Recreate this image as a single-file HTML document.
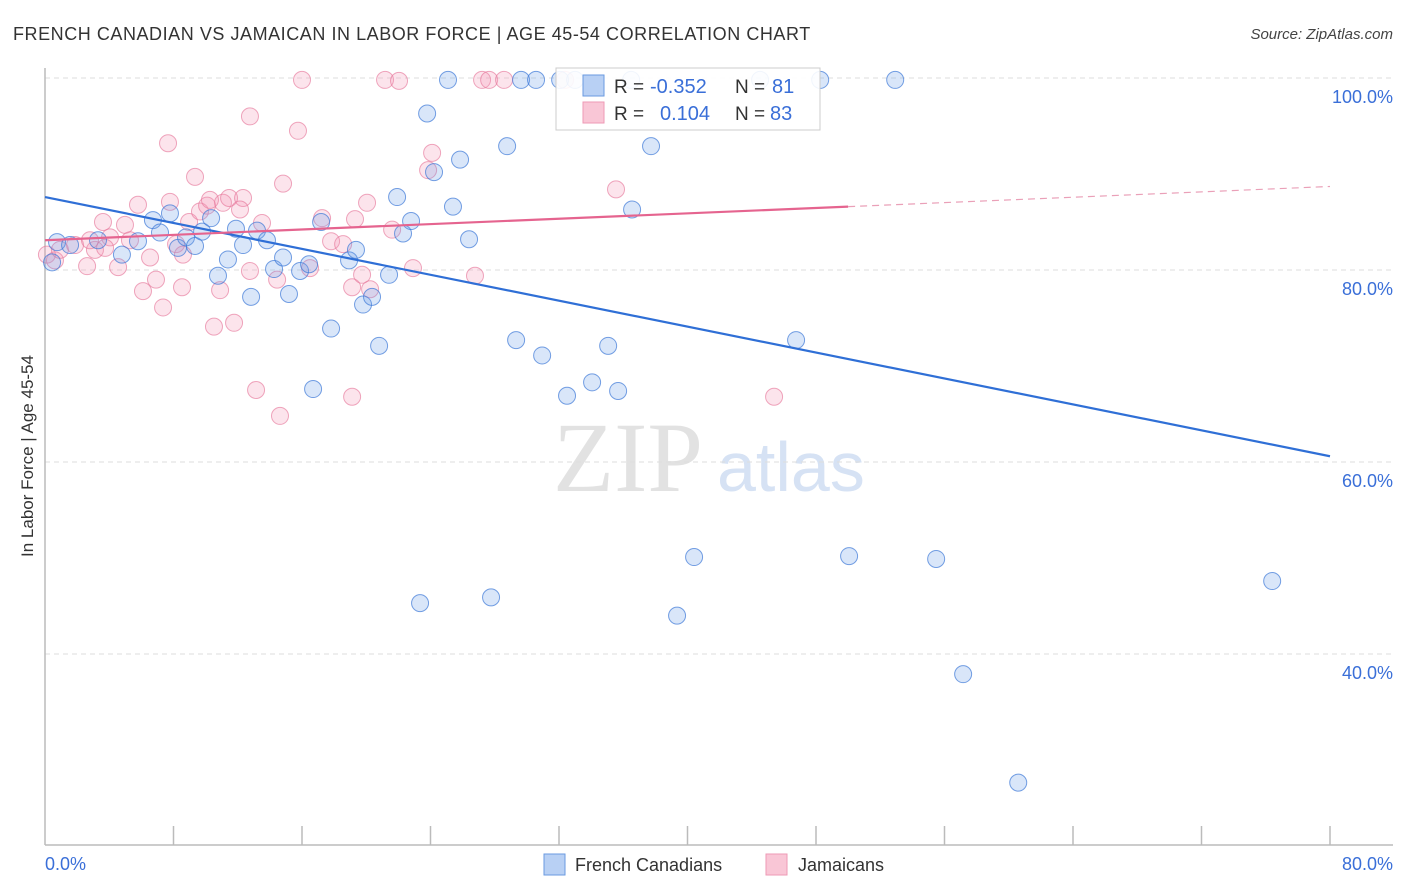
<!DOCTYPE html>
<html><head><meta charset="utf-8"><style>
body{margin:0;background:#fff;width:1406px;height:892px;overflow:hidden;font-family:"Liberation Sans",sans-serif}
svg{display:block}
</style></head><body>
<svg id="chart" width="1406" height="892" xmlns="http://www.w3.org/2000/svg" font-family="Liberation Sans, sans-serif">
<text x="13" y="40" font-size="18" fill="#333" letter-spacing="0.55">FRENCH CANADIAN VS JAMAICAN IN LABOR FORCE | AGE 45-54 CORRELATION CHART</text>
<text x="1393" y="39" font-size="15" fill="#444" font-style="italic" text-anchor="end">Source: ZipAtlas.com</text>
<g>
<text x="553" y="491" font-size="100" font-family="Liberation Serif, serif" fill="#e2e2e2">ZIP</text>
<text x="717" y="491" font-size="70" fill="#d6e2f4">atlas</text>
</g>
<g id="grid"></g>
<g id="axes"></g>
<g id="pts"></g>
<g id="lines"></g>
<text transform="translate(33,456) rotate(-90)" font-size="17" fill="#333" text-anchor="middle">In Labor Force | Age 45-54</text>
<g>
<rect x="556" y="68" width="264" height="62" fill="#fff" fill-opacity="0.9" stroke="#ccc"/>
<rect x="583" y="75" width="21" height="21" fill="#b8d0f4" stroke="#6a9ae0"/>
<rect x="583" y="102" width="21" height="21" fill="#f9c6d6" stroke="#ee9ab5"/>
<text x="614" y="93" font-size="19" fill="#333">R =</text>
<text x="650" y="93" font-size="20" fill="#3a6fd8">-0.352</text>
<text x="735" y="93" font-size="19" fill="#333">N =</text>
<text x="772" y="93" font-size="20" fill="#3a6fd8">81</text>
<text x="614" y="120" font-size="19" fill="#333">R =</text>
<text x="660" y="120" font-size="20" fill="#3a6fd8">0.104</text>
<text x="735" y="120" font-size="19" fill="#333">N =</text>
<text x="770" y="120" font-size="20" fill="#3a6fd8">83</text>
</g>
<g>
<rect x="544" y="854" width="21" height="21" fill="#b8d0f4" stroke="#6a9ae0"/>
<text x="575" y="871" font-size="18" fill="#333">French Canadians</text>
<rect x="766" y="854" width="21" height="21" fill="#f9c6d6" stroke="#ee9ab5"/>
<text x="798" y="871" font-size="18" fill="#333">Jamaicans</text>
</g>
</svg>
<script>
const blueX=[0.75,0.44,1.56,3.30,4.79,5.79,6.72,7.78,7.16,8.28,8.78,9.34,9.78,10.34,10.77,11.39,11.89,12.33,12.83,13.20,13.82,14.26,14.82,15.19,15.88,16.44,17.19,17.81,16.69,18.93,19.36,19.80,20.36,20.80,21.42,21.92,22.29,22.79,23.35,23.79,24.22,25.09,25.40,25.84,26.40,27.77,28.77,29.33,29.64,30.57,30.95,32.07,32.50,33.00,34.06,35.06,35.68,36.49,37.73,36.55,39.35,40.41,44.52,46.76,48.26,50.06,52.93,55.48,57.16,60.59,76.40];
const blueY=[82.9,80.8,82.6,83.1,81.6,83.0,85.2,85.9,83.9,82.3,83.4,82.5,84.0,85.4,79.4,81.1,84.3,82.6,77.2,84.1,83.1,80.1,81.3,77.5,79.9,80.6,85.0,73.9,67.6,81.0,82.1,76.4,77.2,72.1,79.5,87.6,83.8,85.1,45.3,96.3,90.2,99.8,86.6,91.5,83.2,45.9,92.9,72.7,99.8,99.8,71.1,99.8,66.9,99.8,68.3,72.1,67.4,99.8,92.9,86.3,44.0,50.1,99.8,72.7,99.8,50.2,99.8,49.9,37.9,26.6,47.6];
const pinkX=[0.12,0.62,0.93,1.87,2.62,3.11,3.61,4.05,4.55,4.98,5.79,6.10,6.54,6.91,7.35,7.66,7.78,8.16,8.53,8.97,9.34,9.65,10.09,10.52,10.90,11.08,11.46,11.77,12.33,12.76,12.76,13.14,13.51,14.45,14.63,14.82,15.75,16.00,16.50,17.25,17.81,18.56,19.12,19.12,19.30,19.74,20.05,20.24,21.17,21.61,22.04,22.91,23.85,24.10,26.77,27.21,27.65,28.58,32.38,35.55,45.39,8.59,5.29,12.14,10.27,3.74,2.80];
const pinkY=[81.6,81.0,82.1,82.6,80.4,82.1,85.0,83.4,80.3,84.7,86.8,77.8,81.3,79.0,76.1,93.2,87.1,82.7,78.2,85.0,89.7,86.1,86.7,74.1,77.9,87.0,87.5,74.5,87.5,96.0,79.9,67.5,84.9,79.0,64.8,89.0,94.5,99.8,80.2,85.4,83.0,82.7,66.8,78.2,85.3,79.5,87.0,78.0,99.8,84.2,99.7,80.2,90.4,92.2,79.4,99.8,99.8,99.8,99.8,88.4,66.8,81.6,83.1,86.3,87.3,82.3,83.1];
const blueTrend=[87.6,-0.3375];
const pinkTrend=[83.1,0.07];
const yTicks=[100,80,60,40];
const yTickLabels=["100.0%","80.0%","60.0%","40.0%"];
const xTicks=[0,8,16,24,32,40,48,56,64,72,80];

const X=v=>45+v*(1285/80);
const Y=v=>78+(100-v)*9.6;
const NS="http://www.w3.org/2000/svg";
function mk(tag,attrs,parent){const e=document.createElementNS(NS,tag);for(const k in attrs)e.setAttribute(k,attrs[k]);parent.appendChild(e);return e;}
const grid=document.getElementById('grid'),axes=document.getElementById('axes'),pts=document.getElementById('pts'),lines=document.getElementById('lines');
yTicks.forEach((t,i)=>{
  const l=mk('line',{x1:45,x2:1393,y1:Y(t),y2:Y(t),stroke:'#ddd','stroke-dasharray':'5,4'},grid);
  
  
  const tx=mk('text',{x:1393,y:Y(t)+25,'font-size':18,fill:'#3a6fd8','text-anchor':'end'},axes);
  tx.textContent=yTickLabels[i];
  
  
});
const ya=mk('line',{x1:45,x2:45,y1:68,y2:845,stroke:'#bbb','stroke-width':1.5},axes);


const xa=mk('line',{x1:45,x2:1393,y1:845,y2:845,stroke:'#bbb','stroke-width':1.5},axes);


xTicks.slice(1).forEach(t=>{
  const l=mk('line',{x1:X(t),x2:X(t),y1:826,y2:845,stroke:'#bbb','stroke-width':1.5},axes);
  
  
});
const xl0=mk('text',{x:45,y:870,'font-size':18,fill:'#3a6fd8'},axes);xl0.textContent='0.0%';


const xl1=mk('text',{x:1393,y:870,'font-size':18,fill:'#3a6fd8','text-anchor':'end'},axes);xl1.textContent='80.0%';


function dots(xs,ys,fill,stroke,name){
  xs.forEach((x,i)=>{
    const c=mk('circle',{cx:X(x),cy:Y(ys[i]),r:8.5,fill:fill,stroke:stroke,'stroke-width':1},pts);
    
    
  });
}
dots(pinkX,pinkY,'rgba(242,150,180,0.26)','rgba(230,120,155,0.65)','jamaican-point');
dots(blueX,blueY,'rgba(110,160,230,0.26)','rgba(60,120,215,0.7)','french-canadian-point');
const bl=mk('line',{x1:X(0),y1:Y(blueTrend[0]),x2:X(80),y2:Y(blueTrend[0]+blueTrend[1]*80),stroke:'#2f6fd6','stroke-width':2.2},lines);


const pl=mk('line',{x1:X(0),y1:Y(pinkTrend[0]),x2:X(50),y2:Y(pinkTrend[0]+pinkTrend[1]*50),stroke:'#e5648f','stroke-width':2.2},lines);


const pd=mk('line',{x1:X(50),y1:Y(pinkTrend[0]+pinkTrend[1]*50),x2:X(80),y2:Y(pinkTrend[0]+pinkTrend[1]*80),stroke:'#eaa0b8','stroke-width':1.2,'stroke-dasharray':'7,5'},lines);


</script>
</body></html>
